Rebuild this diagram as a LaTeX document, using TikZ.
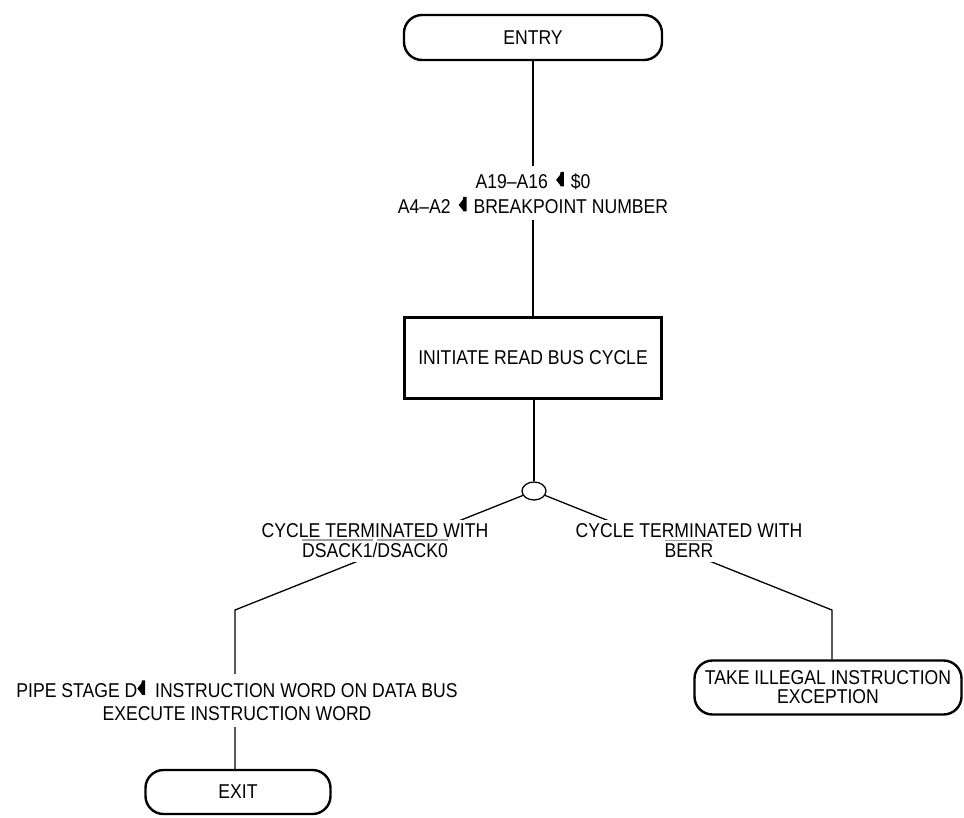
\documentclass[tikz,border=0pt]{standalone}
\usepackage{fontspec}
\setmainfont{Liberation Sans}[FakeStretch=0.88]
\usetikzlibrary{shapes.geometric}
\definecolor{barc}{HTML}{A0A0A0}
\newcommand\sigbar[1]{\setbox0\hbox{#1}\rlap{\textcolor{barc}{\raise\dimexpr\ht0+3pt\relax\hbox{\vrule width\wd0 height 1.5pt depth 0pt}}}\box0}
\newcommand\larrow{\tikz[baseline=0pt,x=1pt,y=1pt]\fill[black] (0,9)--(4,14)--(4.6,17)--(7.8,17)--(7.8,2.5)--(4.6,2.5)--(4,4)--cycle;}
\begin{document}
\begin{tikzpicture}[x=1pt,y=-1pt,
  font=\fontsize{20}{23}\selectfont,
  term/.style={draw, line width=2.4pt, rounded corners=18pt, inner sep=0pt, align=center},
  proc/.style={draw, line width=2.4pt, inner sep=0pt},
  conn/.style={line width=1.3pt},
  lab/.style={fill=white, inner xsep=2pt, inner ysep=6pt, align=center}]
\useasboundingbox (0,0) rectangle (964,817);

% shapes
\node[term, minimum width=258, minimum height=45] (entry) at (533,37.5) {ENTRY};
\node[proc, minimum width=257, minimum height=81] (init) at (533,358) {INITIATE READ BUS CYCLE};
\node[draw, ellipse, line width=1.3pt, minimum width=24, minimum height=18, inner sep=0pt] (circ) at (534,491) {};
\node[term, minimum width=185, minimum height=44] (exit) at (238,792) {EXIT};
\node[term, minimum width=267, minimum height=54, font=\fontsize{20}{19}\selectfont] (take) at (828,687.5) {TAKE ILLEGAL INSTRUCTION\\EXCEPTION};

\coordinate (lbend) at (235,610);
\coordinate (rbend) at (832,610);

% connectors
\draw[conn] (entry) -- (init);
\draw[conn] (init.south -| circ.north) -- (circ.north);
\draw[conn] (circ) -- (lbend) -- (lbend |- exit.north);
\draw[conn] (circ) -- (rbend) -- (rbend |- take.north);

% labels on connectors
\node[lab, font=\fontsize{20}{25}\selectfont] (addr) at (533,193) {A19--A16\hspace{8pt}\larrow\hspace{7pt}\$0\\A4--A2\hspace{8pt}\larrow\hspace{7pt}BREAKPOINT NUMBER};
\node[lab, inner ysep=4pt, font=\fontsize{20}{20}\selectfont] (cyl) at (375,541) {CYCLE TERMINATED WITH\\\sigbar{DSACK1}/\sigbar{DSACK0}};
\node[lab, inner ysep=4pt, font=\fontsize{20}{20}\selectfont] (cyr) at (689,541) {CYCLE TERMINATED WITH\\\sigbar{BERR}};
\node[lab] (pipe) at (237,700.5) {PIPE STAGE D\larrow\hspace{10pt}INSTRUCTION WORD ON DATA BUS\\EXECUTE INSTRUCTION WORD};
\end{tikzpicture}
\end{document}
